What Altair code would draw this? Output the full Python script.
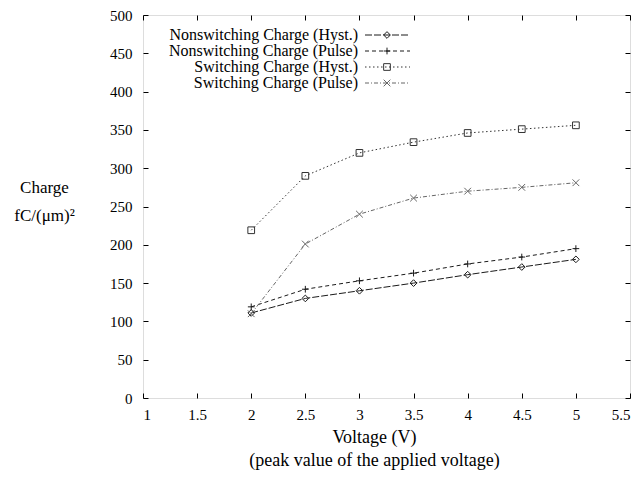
import altair as alt
import pandas as pd

voltage = [2, 2.5, 3, 3.5, 4, 4.5, 5]
series = [
    "Nonswitching Charge (Hyst.)",
    "Nonswitching Charge (Pulse)",
    "Switching Charge (Hyst.)",
    "Switching Charge (Pulse)",
]
nonsw_hyst = [111, 130, 140, 150, 161, 171, 181]
nonsw_pulse = [119, 142, 153, 163, 175, 184, 195]
sw_hyst = [219, 290, 320, 334, 346, 351, 356]
sw_pulse = [110, 201, 240, 261, 270, 275, 281]

x_ticks = [1, 1.5, 2, 2.5, 3, 3.5, 4, 4.5, 5, 5.5]
y_ticks = [0, 50, 100, 150, 200, 250, 300, 350, 400, 450, 500]

rows = []
for name, vals in zip(series, [nonsw_hyst, nonsw_pulse, sw_hyst, sw_pulse]):
    for v, c in zip(voltage, vals):
        rows.append({"series": name, "voltage": v, "charge": c})
df = pd.DataFrame(rows)
legend_df = pd.DataFrame({"series": series})

FONT = "'Liberation Serif', 'Times New Roman', Times, 'DejaVu Serif', serif"
W, H = 487, 383

dash_scale = alt.Scale(domain=series, range=[[7, 2], [4, 3], [1.5, 2.5], [4, 2, 1, 2]])
shape_scale = alt.Scale(domain=series, range=["diamond", "M-1,0L1,0M0,-1L0,1", "square", "M-1,-1L1,1M-1,1L1,-1"])
color_scale = alt.Scale(domain=series, range=["#1a1a1a", "#1a1a1a", "#333333", "#666666"])

xs = alt.Scale(domain=[1, 5.5], nice=False, zero=False)
ys = alt.Scale(domain=[0, 500], nice=False, zero=False)

common = dict(domain=False, grid=False, tickColor="black", tickSize=5, offset=-5,
              labelFont=FONT, labelFontSize=15, labelColor="black",
              titleFont=FONT, titleColor="black", titleFontWeight="normal")

x_bottom = alt.Axis(values=x_ticks, format="~g", labelPadding=9,
                    title=["Voltage (V)", "(peak value of the applied voltage)"],
                    titleFontSize=18,
                    titleX=231, titleY=49, titleAlign="center", titleBaseline="alphabetic",
                    titleLineHeight=23, **common)
y_left = alt.Axis(values=y_ticks, format="d", labelPadding=11,
                  title=["Charge", "fC/(μm)²"], titleAngle=0, titleFontSize=17,
                  titleX=-104, titleY=177, titleAlign="center", titleBaseline="alphabetic",
                  titleLineHeight=28, **common)
x_top = alt.Axis(values=x_ticks, orient="top", labels=False, title=None, **common)
y_right = alt.Axis(values=y_ticks, orient="right", labels=False, title=None, **common)

base = alt.Chart(df)
lines = base.mark_line(strokeWidth=1).encode(
    x=alt.X("voltage:Q", scale=xs, axis=x_bottom),
    y=alt.Y("charge:Q", scale=ys, axis=y_left),
    strokeDash=alt.StrokeDash("series:N", scale=dash_scale, legend=None),
    color=alt.Color("series:N", scale=color_scale, legend=None),
)
points = base.mark_point(filled=False, size=45, strokeWidth=1, opacity=1).encode(
    x=alt.X("voltage:Q", scale=xs, axis=x_bottom),
    y=alt.Y("charge:Q", scale=ys, axis=y_left),
    shape=alt.Shape("series:N", scale=shape_scale, legend=None),
    color=alt.Color("series:N", scale=color_scale, legend=None),
)
data_layer = alt.layer(lines, points)

mirror = base.mark_point(opacity=0).encode(
    x=alt.X("voltage:Q", scale=xs, axis=x_top),
    y=alt.Y("charge:Q", scale=ys, axis=y_right),
)

ly = alt.Y("series:N", scale=alt.Scale(type="point", domain=series, range=[20, 68], padding=0), axis=None)
lbase = alt.Chart(legend_df)
legend_text = lbase.mark_text(align="right", baseline="middle", font=FONT, fontSize=16, color="black").encode(
    x=alt.value(215), y=ly, text="series:N"
)
legend_rule = lbase.mark_rule(strokeWidth=1).encode(
    x=alt.value(222), x2=alt.value(267), y=ly,
    strokeDash=alt.StrokeDash("series:N", scale=dash_scale, legend=None),
    color=alt.Color("series:N", scale=color_scale, legend=None),
)
legend_pt = lbase.mark_point(filled=False, size=45, strokeWidth=1, opacity=1).encode(
    x=alt.value(244), y=ly,
    shape=alt.Shape("series:N", scale=shape_scale, legend=None),
    color=alt.Color("series:N", scale=color_scale, legend=None),
)
legend_layer = alt.layer(legend_rule, legend_pt, legend_text)

chart = alt.layer(data_layer, mirror, legend_layer).resolve_scale(
    x="independent", y="independent"
).properties(
    width=W, height=H,
    padding={"left": 135, "top": 7, "right": 1, "bottom": 76},
    autosize=alt.AutoSizeParams(type="none"),
    background="white",
).configure_view(stroke="black", strokeWidth=1).configure(font=FONT)

chart.save("out.html", embed_options={"renderer": "svg", "actions": False})
